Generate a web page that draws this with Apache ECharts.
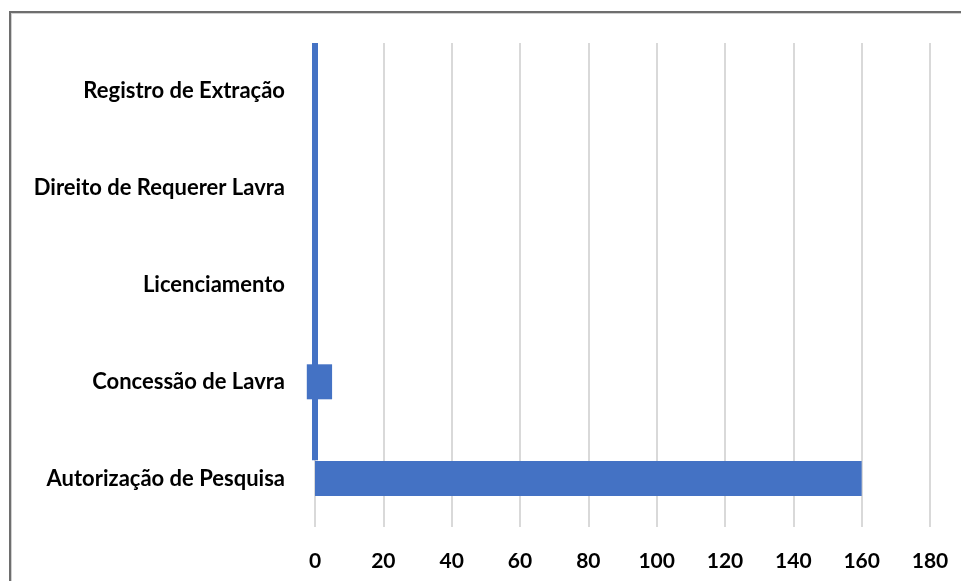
<!DOCTYPE html>
<html>
<head>
<meta charset="utf-8">
<script src="https://cdn.jsdelivr.net/npm/echarts@6/dist/echarts.min.js"></script>
<style>
  html, body { margin: 0; padding: 0; background: #ffffff; }
  #wrap { position: relative; width: 961px; height: 581px; overflow: hidden; }
  #chart { position: absolute; left: 0; top: 0; width: 961px; height: 581px; }
  #frame {
    position: absolute; left: 9px; top: 11px; width: 980px; height: 600px;
    border-top: 2px solid #6e6e6e; border-left: 2px solid #6e6e6e;
    box-shadow: inset 1px 1px 0 #d0d0d0;
    pointer-events: none;
  }
</style>
</head>
<body>
<div id="wrap">
  <div id="chart"></div>
  <div id="frame"></div>
</div>
<script>
// Process types, listed bottom to top
const categories = [
  'Autorização de Pesquisa',
  'Concessão de Lavra',
  'Licenciamento',
  'Direito de Requerer Lavra',
  'Registro de Extração'
];
// Main bar values per process type
const countValues = [160, 5, 0, 0, 0];
// Part of the Concessão bar that extends left of zero
const negativeValues = ['-', -2.4, '-', '-', '-'];
// Vertical stripe along zero: [x, position on the category band scale]
const zeroStripe = [[0, 5], [0, 0.69]];
// Value axis ticks
const axisMin = 0, axisMax = 180, axisStep = 20;

const BLUE = '#4472C4';
const FONT = 'Lato, "DejaVu Sans", sans-serif';
const chart = echarts.init(document.getElementById('chart'), null, { renderer: 'canvas' });

chart.setOption({
  animation: false,
  backgroundColor: 'transparent',
  grid: { left: 315, right: 31, top: 43, bottom: 54, containLabel: false },
  xAxis: {
    type: 'value',
    min: axisMin, max: axisMax, interval: axisStep,
    axisLine: { show: false },
    axisTick: { show: false },
    axisLabel: {
      margin: 24,
      fontFamily: FONT, fontWeight: 'bold', fontSize: 21, color: '#000000'
    },
    splitLine: { show: true, lineStyle: { color: '#d9d9d9', width: 2 } }
  },
  yAxis: [
    {
      type: 'category',
      data: categories,
      axisLine: { show: false },
      axisTick: { show: false },
      axisLabel: {
        margin: 30,
        fontFamily: FONT, fontWeight: 'bold', fontSize: 22, color: '#000000'
      },
      splitLine: { show: false }
    },
    {
      type: 'value', min: 0, max: 5, show: false
    }
  ],
  series: [
    {
      type: 'bar', stack: 'total', data: countValues,
      barWidth: 35, clip: false, itemStyle: { color: BLUE }
    },
    {
      type: 'bar', stack: 'total', data: negativeValues,
      barWidth: 35, clip: false, itemStyle: { color: BLUE }
    },
    {
      type: 'line', yAxisIndex: 1, data: zeroStripe,
      symbol: 'none', z: 3, clip: false,
      lineStyle: { color: BLUE, width: 6, cap: 'butt' }
    }
  ]
});
</script>
</body>
</html>
